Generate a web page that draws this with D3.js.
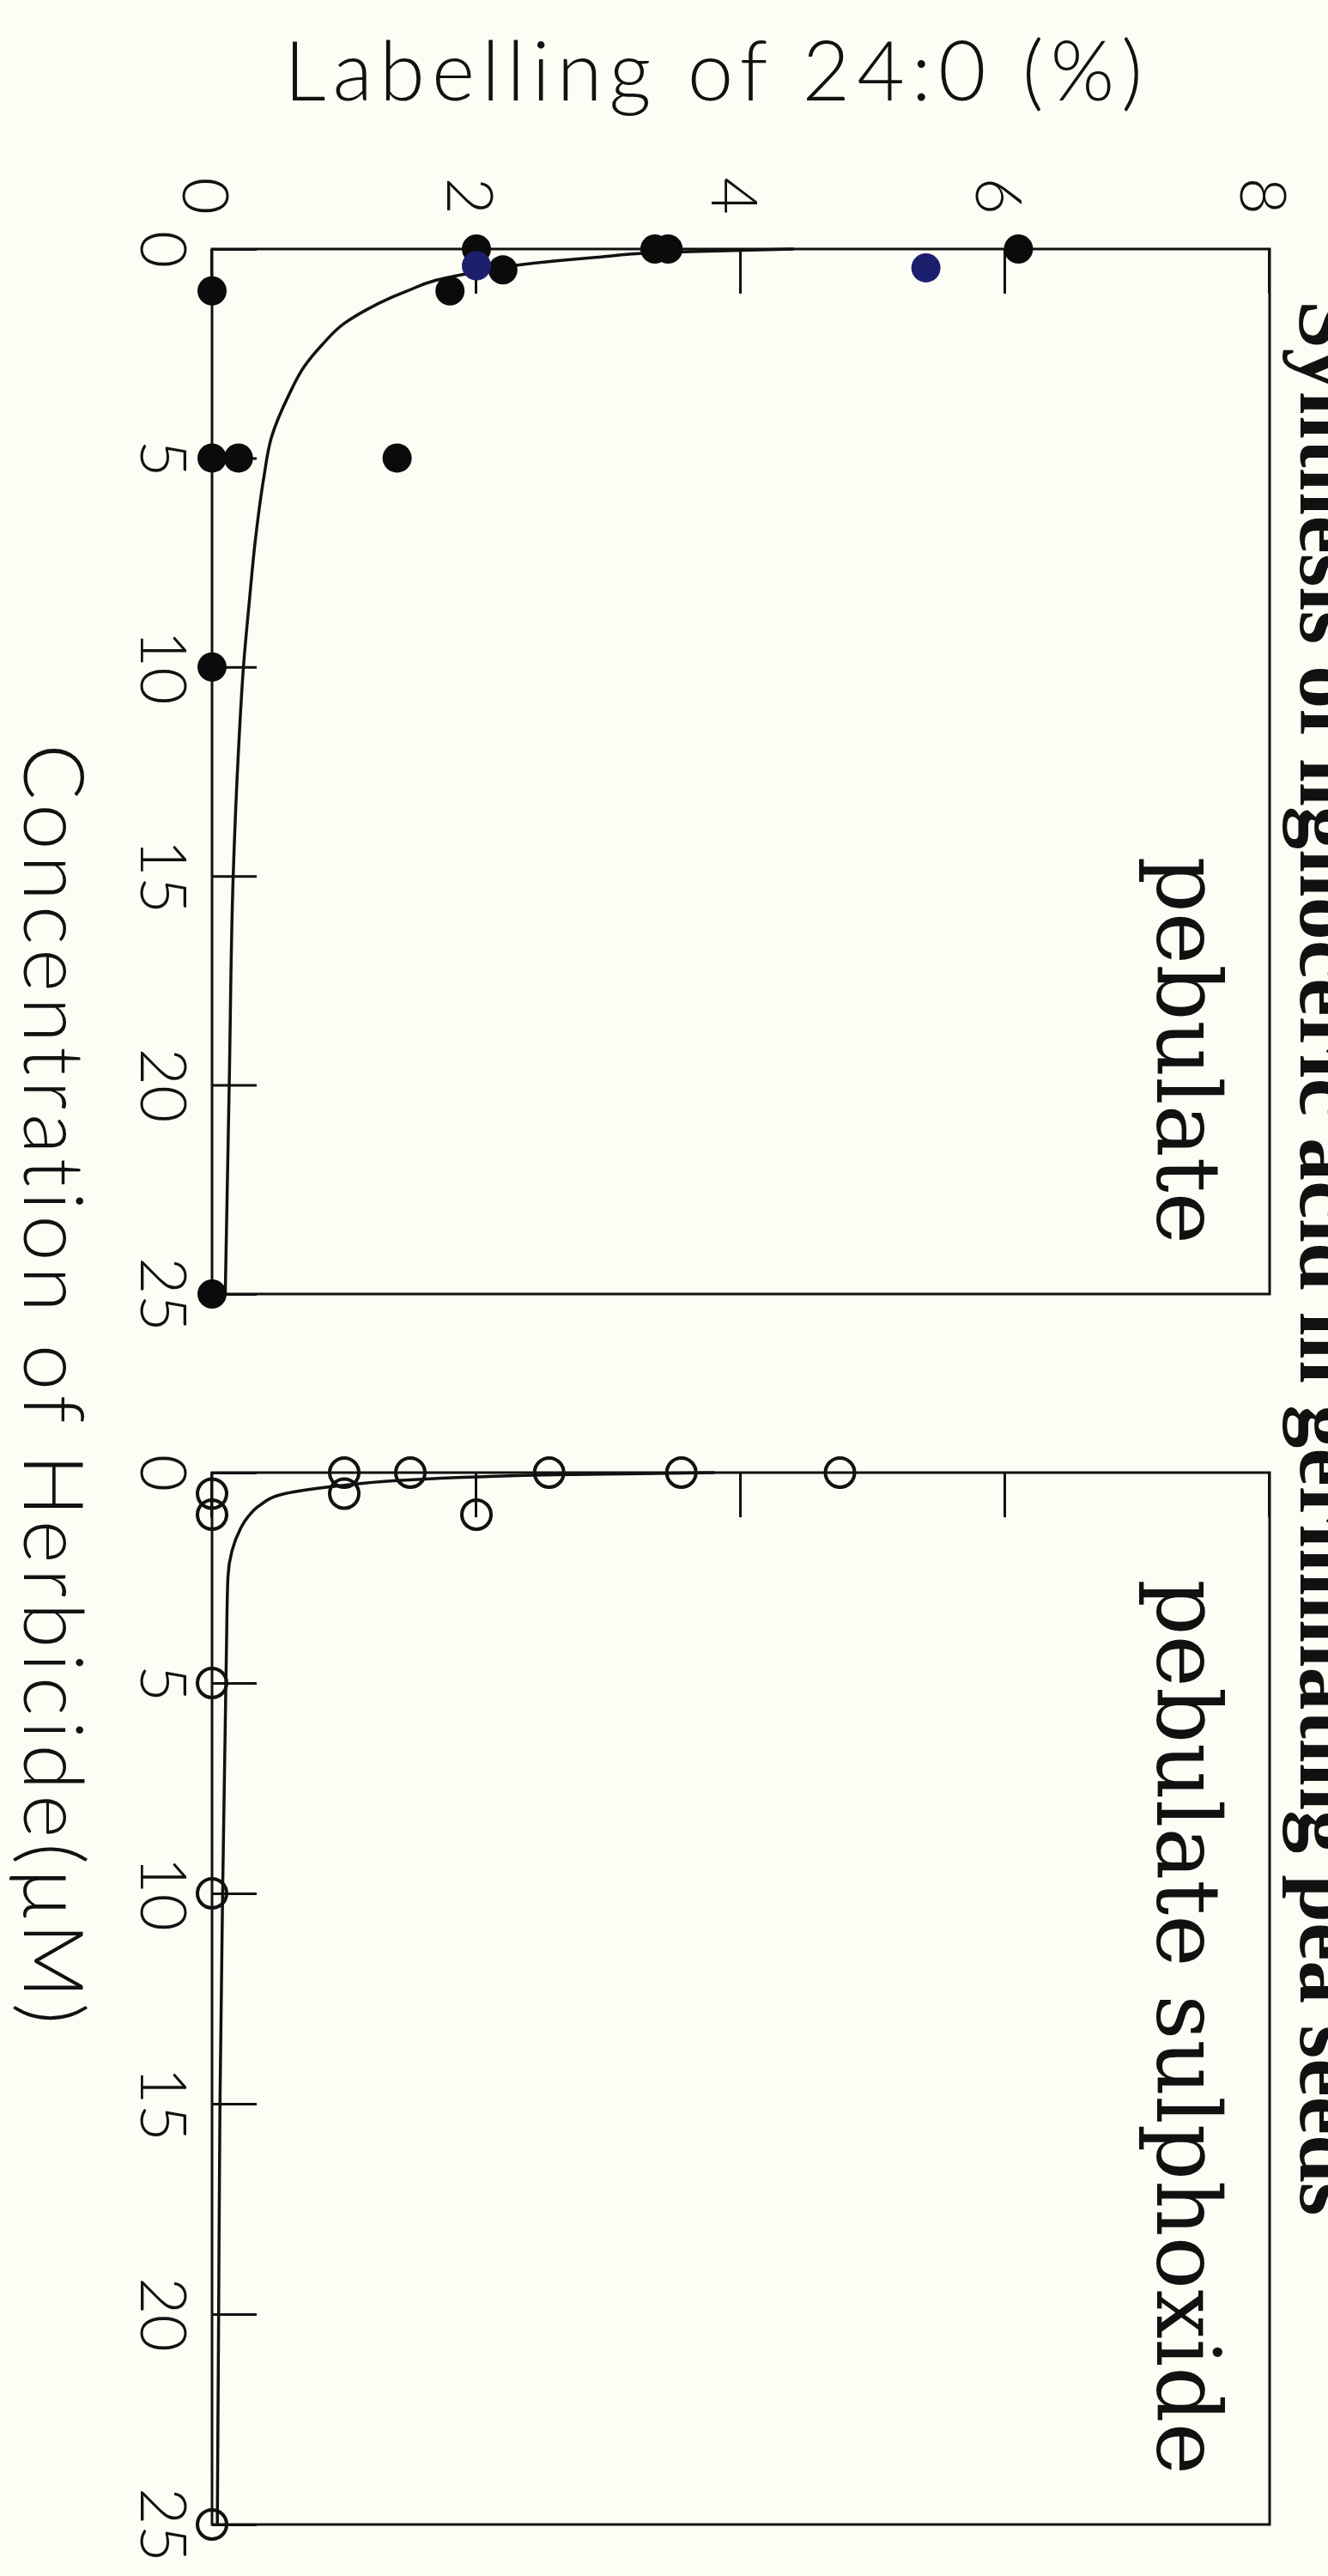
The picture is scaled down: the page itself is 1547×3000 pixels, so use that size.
<!DOCTYPE html>
<html lang="en">
<head>
<meta charset="UTF-8">
<title>Labelling of 24:0</title>
<script src="https://d3js.org/d3.v7.min.js"></script>
<style>
  body { margin: 0; background: #fdfdf6; }
  svg { display: block; }
  .tick text { font-family: Lato, "DejaVu Sans", sans-serif; font-weight: 300; font-size: 75px; fill: #111; }
  .tick line { stroke: #111; stroke-width: 3; }
</style>
</head>
<body>
<script>
// pebulate, filled dots
const pebConc = [0, 0, 0, 0, 0.5, 1, 1, 5, 5, 5, 10, 25];
const pebVal  = [2.0, 3.35, 3.45, 6.1, 2.2, 1.8, 0, 0, 0.2, 1.4, 0, 0];
// two dots printed in blue
const pebBlueConc = [0.4, 0.45];
const pebBlueVal  = [2.0, 5.4];
// fitted curve, pebulate
const pebCurveConc = [0, 0.07, 0.2, 0.37, 0.55, 0.76, 1.0, 1.17, 1.45, 1.78, 2.3, 2.8, 3.5, 4.5, 5.5, 6.9, 8.5, 9.9, 12, 15, 20, 25];
const pebCurveVal  = [4.4, 3.5, 2.9, 2.35, 2.0, 1.68, 1.48, 1.35, 1.17, 1.0, 0.83, 0.7, 0.58, 0.45, 0.39, 0.33, 0.28, 0.24, 0.2, 0.16, 0.13, 0.1];

// pebulate sulphoxide, open circles
const sulConc = [0, 0, 0, 0, 0, 0.5, 0.5, 1, 1, 5, 10, 25];
const sulVal  = [1.0, 1.5, 2.55, 3.55, 4.75, 0, 1.0, 0, 2.0, 0, 0, 0];
const sulCurveConc = [0, 0.05, 0.1, 0.2, 0.3, 0.5, 0.78, 1.06, 1.3, 2.5, 4, 6, 10, 15, 20, 25];
const sulCurveVal  = [3.8, 2.6, 2.0, 1.35, 1.0, 0.55, 0.36, 0.27, 0.22, 0.12, 0.11, 0.1, 0.08, 0.06, 0.05, 0.04];

const yTicks = [0, 2, 4, 6, 8];
const xTicks = [0, 5, 10, 15, 20, 25];

const W = 1547, H = 3000;
const svg = d3.select("body").append("svg").attr("width", W).attr("height", H);
svg.append("rect").attr("width", W).attr("height", H).attr("fill", "#fdfdf6");

// the page is a normal two-panel figure turned 90 degrees clockwise
const fig = svg.append("g").attr("transform", "translate(1479,0) rotate(90)");

const plotH = 1232;
const y = d3.scaleLinear().domain([0, 8]).range([plotH, 0]);
const xPeb = d3.scaleLinear().domain([0, 25]).range([290, 1507]);
const xSul = d3.scaleLinear().domain([0, 25]).range([1715, 2940]);

const line = (x) => d3.line().x(d => x(d[0])).y(d => y(d[1])).curve(d3.curveMonotoneX);

function panel(x, name, withYLabels) {
    const g = fig.append("g");
    // x axis (concentration)
    g.append("g")
        .attr("transform", `translate(0,${plotH})`)
        .call(d3.axisBottom(x).tickValues(xTicks).tickSizeInner(-52).tickSizeOuter(0).tickPadding(30))
        .call(a => a.select(".domain").remove());
    // y axis (labelling)
    const ya = g.append("g")
        .attr("transform", `translate(${x.range()[0]},0)`)
        .call(d3.axisLeft(y).tickValues(yTicks).tickSizeInner(-52).tickSizeOuter(0).tickPadding(40))
        .call(a => a.select(".domain").remove());
    ya.selectAll("text").attr("dy", "0.45em");
    if (!withYLabels) ya.selectAll("text").remove();

    g.append("rect")
        .attr("x", x.range()[0]).attr("y", 0)
        .attr("width", x.range()[1] - x.range()[0]).attr("height", plotH)
        .attr("fill", "none").attr("stroke", "#111").attr("stroke-width", 3);

    g.append("text")
        .attr("x", x.range()[1] - 58)
        .attr("y", y(8) + 131)
        .attr("text-anchor", "end")
        .attr("font-family", "'DejaVu Serif', serif")
        .attr("font-size", 102)
        .attr("fill", "#111")
        .text(name);
    return g;
}

const gPeb = panel(xPeb, "pebulate", true);
const gSul = panel(xSul, "pebulate sulphoxide", false);

gPeb.append("path")
    .datum(d3.zip(pebCurveConc, pebCurveVal))
    .attr("d", line(xPeb))
    .attr("fill", "none").attr("stroke", "#111").attr("stroke-width", 3.5);

gSul.append("path")
    .datum(d3.zip(sulCurveConc, sulCurveVal))
    .attr("d", line(xSul))
    .attr("fill", "none").attr("stroke", "#111").attr("stroke-width", 3.5);

gPeb.selectAll("circle.peb")
    .data(d3.zip(pebConc, pebVal))
    .join("circle")
    .attr("class", "peb")
    .attr("cx", d => xPeb(d[0]))
    .attr("cy", d => y(d[1]))
    .attr("r", 17)
    .attr("fill", "#0b0b0b");

gPeb.selectAll("circle.blue")
    .data(d3.zip(pebBlueConc, pebBlueVal))
    .join("circle")
    .attr("class", "blue")
    .attr("cx", d => xPeb(d[0]))
    .attr("cy", d => y(d[1]))
    .attr("r", 17)
    .attr("fill", "#1c1f6e");

gSul.selectAll("circle.sul")
    .data(d3.zip(sulConc, sulVal))
    .join("circle")
    .attr("class", "sul")
    .attr("cx", d => xSul(d[0]))
    .attr("cy", d => y(d[1]))
    .attr("r", 17)
    .attr("fill", "none")
    .attr("stroke", "#111")
    .attr("stroke-width", 4);

// axis titles
fig.append("text")
    .attr("transform", `translate(117,${y(4) + 28}) rotate(-90)`)
    .attr("text-anchor", "middle")
    .attr("font-family", "Lato, 'DejaVu Sans', sans-serif")
    .attr("font-weight", 300)
    .attr("font-size", 96)
    .attr("letter-spacing", 8)
    .attr("fill", "#111")
    .text("Labelling of 24:0 (%)");

fig.append("text")
    .attr("x", (xPeb.range()[0] + xSul.range()[1]) / 2)
    .attr("y", plotH + 219)
    .attr("text-anchor", "middle")
    .attr("font-family", "Lato, 'DejaVu Sans', sans-serif")
    .attr("font-weight", 300)
    .attr("font-size", 96)
    .attr("letter-spacing", 6)
    .attr("fill", "#111")
    .text("Concentration of Herbicide(\u03bcM)");

// figure title, mostly beyond the page edge as in the source scan
fig.append("text")
    .attr("x", 350)
    .attr("y", -36)
    .attr("font-family", "'Liberation Serif', serif")
    .attr("font-weight", "bold")
    .attr("font-size", 100)
    .attr("fill", "#111")
    .text("Synthesis of lignoceric acid in germinating pea seeds");
</script>
</body>
</html>
